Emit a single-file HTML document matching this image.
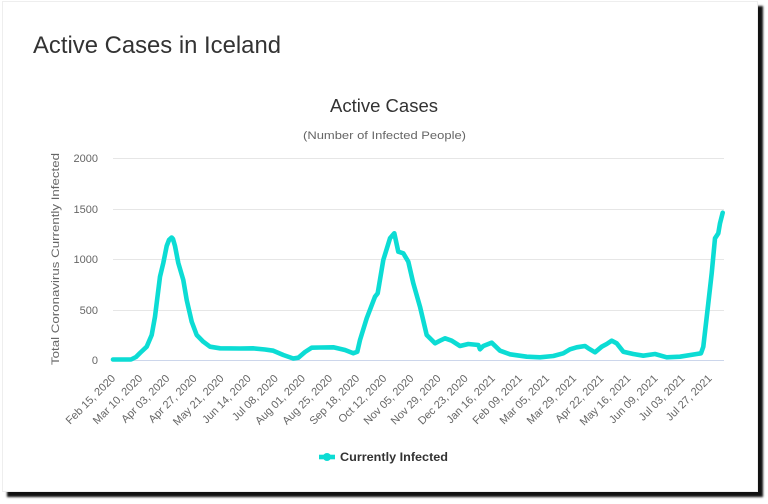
<!DOCTYPE html>
<html><head><meta charset="utf-8"><style>
html,body{margin:0;padding:0;background:#fff;width:768px;height:504px;overflow:hidden;}
.frame{position:absolute;left:2px;top:1px;width:754px;height:489px;border:1px solid #eee;background:#fff;box-shadow:5px 5px 2px #111;}
svg{position:absolute;left:0;top:0;}
</style></head><body>
<div class="frame"></div>
<svg width="768" height="504" viewBox="0 0 768 504" xmlns="http://www.w3.org/2000/svg" font-family="'Liberation Sans', sans-serif">
<text x="33" y="53" font-size="24" fill="#333" textLength="248" lengthAdjust="spacingAndGlyphs">Active Cases in Iceland</text>
<text x="384" y="112" font-size="18" fill="#333" text-anchor="middle" textLength="108" lengthAdjust="spacingAndGlyphs">Active Cases</text>
<text x="384.5" y="139" font-size="11" fill="#666" text-anchor="middle" textLength="163" lengthAdjust="spacingAndGlyphs">(Number of Infected People)</text>
<g stroke="#e6e6e6" stroke-width="1">
<line x1="113" y1="158.5" x2="724" y2="158.5"/>
<line x1="113" y1="209.5" x2="724" y2="209.5"/>
<line x1="113" y1="259.5" x2="724" y2="259.5"/>
<line x1="113" y1="310.5" x2="724" y2="310.5"/>
</g>
<line x1="113" y1="360.5" x2="724" y2="360.5" stroke="#ccd6eb" stroke-width="1"/>
<g font-size="11" fill="#666" text-anchor="end">
<text x="98" y="162">2000</text>
<text x="98" y="213">1500</text>
<text x="98" y="263">1000</text>
<text x="98" y="314">500</text>
<text x="98" y="364">0</text>
</g>
<text transform="translate(59,259) rotate(-90)" font-size="11" fill="#666" text-anchor="middle" textLength="212" lengthAdjust="spacingAndGlyphs">Total Coronavirus Currently Infected</text>
<g font-size="11" fill="#666" text-anchor="end">
<text transform="translate(116,379) rotate(-45)">Feb 15, 2020</text>
<text transform="translate(143.1,379) rotate(-45)">Mar 10, 2020</text>
<text transform="translate(170.2,379) rotate(-45)">Apr 03, 2020</text>
<text transform="translate(197.4,379) rotate(-45)">Apr 27, 2020</text>
<text transform="translate(224.5,379) rotate(-45)">May 21, 2020</text>
<text transform="translate(251.6,379) rotate(-45)">Jun 14, 2020</text>
<text transform="translate(278.7,379) rotate(-45)">Jul 08, 2020</text>
<text transform="translate(305.8,379) rotate(-45)">Aug 01, 2020</text>
<text transform="translate(333,379) rotate(-45)">Aug 25, 2020</text>
<text transform="translate(360.1,379) rotate(-45)">Sep 18, 2020</text>
<text transform="translate(387.2,379) rotate(-45)">Oct 12, 2020</text>
<text transform="translate(414.3,379) rotate(-45)">Nov 05, 2020</text>
<text transform="translate(441.4,379) rotate(-45)">Nov 29, 2020</text>
<text transform="translate(468.6,379) rotate(-45)">Dec 23, 2020</text>
<text transform="translate(495.7,379) rotate(-45)">Jan 16, 2021</text>
<text transform="translate(522.8,379) rotate(-45)">Feb 09, 2021</text>
<text transform="translate(549.9,379) rotate(-45)">Mar 05, 2021</text>
<text transform="translate(577,379) rotate(-45)">Mar 29, 2021</text>
<text transform="translate(604.2,379) rotate(-45)">Apr 22, 2021</text>
<text transform="translate(631.3,379) rotate(-45)">May 16, 2021</text>
<text transform="translate(658.4,379) rotate(-45)">Jun 09, 2021</text>
<text transform="translate(685.5,379) rotate(-45)">Jul 03, 2021</text>
<text transform="translate(712.6,379) rotate(-45)">Jul 27, 2021</text>
</g>
<polyline fill="none" stroke="#0cdcd4" stroke-width="4.6" stroke-linejoin="round" stroke-linecap="round" points="113,359.5 131,359.5 136,357 140,353 146.7,346.7 151.7,335 155,316.7 156.7,303 160,276.7 163.3,263 166.7,246 169,240 171.7,237.5 173,239 175,246 178.3,263 183.3,280 186.7,300 191.7,321.7 196.7,335 203.3,341.7 210,346.7 220,348.3 240,348.5 253,348.3 265,349.5 273.3,350.7 283.3,355 293.3,358.5 298.3,357.7 305,352 311.7,347.7 320,347.5 333.3,347.3 345,350 353.3,353.3 357.3,351.7 360,340 366.7,318.3 375,296.7 377.7,293.3 383.3,260 390,238.3 394.3,233.3 398.3,251.7 403.3,253.3 408.3,261.7 413.3,283.3 420,306.7 426.7,335 435,343.3 440,340.7 445,338.3 451.7,340.7 460,346 468.3,344 478.3,345 480,349.3 483.3,346 491.7,342.7 500,350.7 510,354.3 526.7,356.7 540,357.3 553.3,356 563.3,353.3 570,349.3 576.7,347.3 585,346 588.3,348.3 595,352.3 601.7,346.7 606.7,344 611.7,340.7 616.7,343.3 623.3,351.7 633.3,354 643.3,355.7 655,354 666.7,357.3 680,356.7 696.7,354 701,353.3 703.3,346.7 708.3,303.3 711.7,273.3 715,238.3 718.3,233.3 720,223.3 722.7,212.7"/>
<line x1="319" y1="457" x2="335" y2="457" stroke="#0cdcd4" stroke-width="4.6"/>
<circle cx="327" cy="457" r="4" fill="#0cdcd4"/>
<text x="340" y="461" font-size="12" font-weight="bold" fill="#333" textLength="108" lengthAdjust="spacingAndGlyphs">Currently Infected</text>
</svg>
</body></html>
